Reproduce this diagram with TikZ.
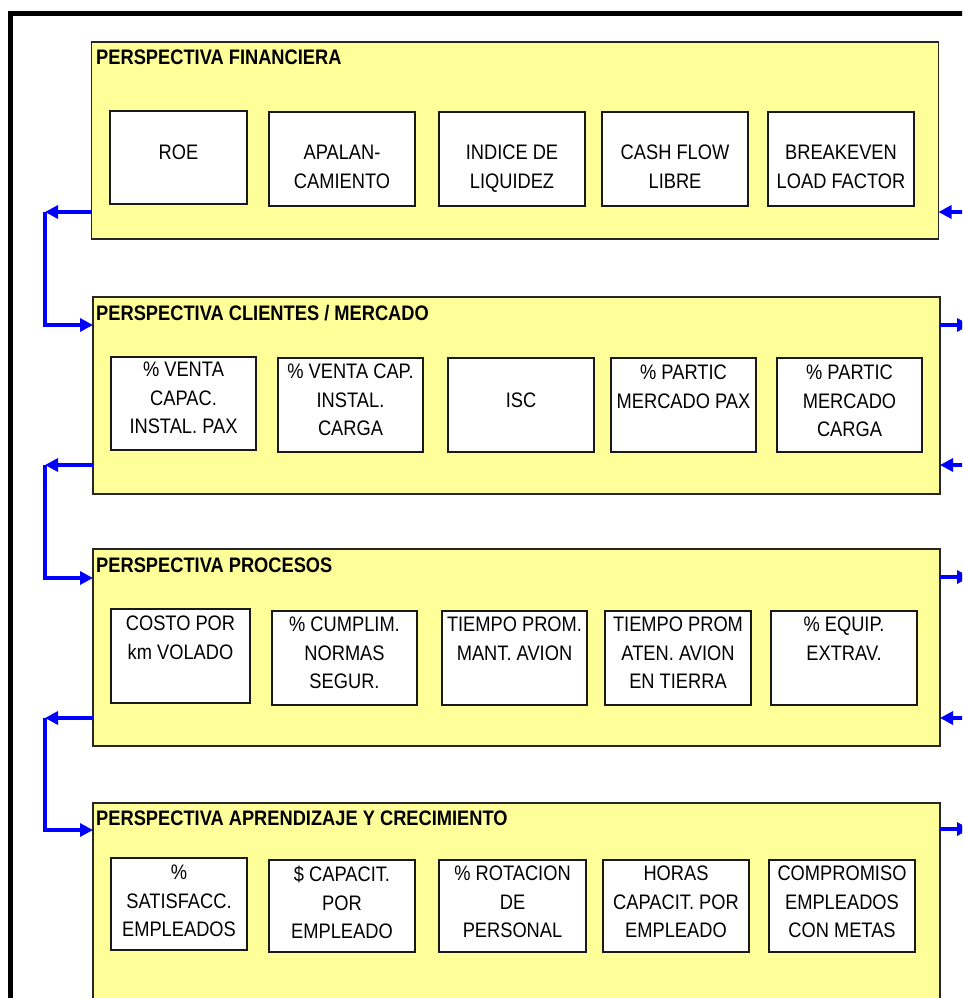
\documentclass[tikz,border=0pt]{standalone}
\usepackage{fontspec}
\setmainfont{Liberation Sans}[FakeStretch=0.87]
\usetikzlibrary{arrows.meta}
\definecolor{panelfill}{HTML}{FFFF99}
\definecolor{flowblue}{HTML}{0000FF}

% a perspective panel: name, left, top, right, bottom
\newcommand\perspective[5]{%
  \node[panel, minimum width={#4-#2}, minimum height={#5-#3}]
    (#1) at ({(#2+#4)/2},{(#3+#5)/2}) {};}
% an indicator box: name, left, top, right, bottom, first baseline, text
\newcommand\indicator[7]{%
  \node[kbox, minimum width={#4-#2}, minimum height={#5-#3}]
    (#1) at ({(#2+#4)/2},{(#3+#5)/2}) {};
  \node[ktext, anchor=north] (#1-t) at ({(#2+#4)/2},{#6-15}) {#7};}

\begin{document}
\begin{tikzpicture}[x=1pt,y=-1pt,
  panel/.style={draw=black!85, line width=1.4pt, fill=panelfill, inner sep=0pt, outer sep=0pt},
  kbox/.style={draw=black!90, line width=1.4pt, fill=white, inner sep=0pt, outer sep=0pt},
  ktext/.style={inner sep=0pt, align=center, font=\fontsize{21}{28.5}\selectfont},
  ptitle/.style={inner sep=0pt, anchor=base west, font=\bfseries\fontsize{21}{25}\selectfont},
  flow/.style={draw=flowblue, line width=4.5pt, -{Triangle[length=13pt,width=13pt]}},
  ]
\path[use as bounding box] (0,0) rectangle (962,998);
\clip (0,0) rectangle (962,998);

% outer frame
\draw[line width=5pt] (10.5,13.5) rectangle (1000,1040);

% panels
\perspective{P1}{91.5}{42}{938.5}{239}
\perspective{P2}{93}{297}{940}{494}
\perspective{P3}{93}{549}{940}{746}
\perspective{P4}{93}{803}{940}{1040}

\node[ptitle] (P1-title) at (96,64)  {PERSPECTIVA FINANCIERA};
\node[ptitle] (P2-title) at (96,320) {PERSPECTIVA CLIENTES / MERCADO};
\node[ptitle] (P3-title) at (96,572) {PERSPECTIVA PROCESOS};
\node[ptitle] (P4-title) at (96,825) {PERSPECTIVA APRENDIZAJE Y CRECIMIENTO};

% financial indicators
\indicator{f1}{110}{111}{247}{204}{160}{ROE}
\indicator{f2}{269}{112}{415}{206}{160}{APALAN-\\CAMIENTO}
\indicator{f3}{439}{112}{585}{206}{160}{INDICE DE\\LIQUIDEZ}
\indicator{f4}{602}{112}{748}{206}{160}{CASH FLOW\\LIBRE}
\indicator{f5}{768}{112}{914}{206}{160}{BREAKEVEN\\LOAD FACTOR}

% customer / market indicators
\indicator{c1}{111}{357}{256}{450}{377}{\% VENTA\\CAPAC.\\INSTAL. PAX}
\indicator{c2}{278}{358}{423}{452}{379}{\% VENTA CAP.\\INSTAL.\\CARGA}
\indicator{c3}{448}{358}{594}{452}{408}{ISC}
\indicator{c4}{611}{358}{756}{452}{380}{\% PARTIC\\MERCADO PAX}
\indicator{c5}{777}{358}{922}{452}{380}{\% PARTIC\\MERCADO\\CARGA}

% process indicators
\indicator{p1}{111}{609}{250}{703}{631}{COSTO POR\\km VOLADO}
\indicator{p2}{272}{611}{417}{705}{632}{\% CUMPLIM.\\NORMAS\\SEGUR.}
\indicator{p3}{442}{611}{587}{705}{632}{TIEMPO PROM.\\MANT. AVION}
\indicator{p4}{605}{611}{751}{705}{632}{TIEMPO PROM\\ATEN. AVION\\EN TIERRA}
\indicator{p5}{771}{611}{917}{705}{632}{\% EQUIP.\\EXTRAV.}

% learning and growth indicators
\indicator{a1}{111}{858}{247}{950}{880}{\%\\SATISFACC.\\EMPLEADOS}
\indicator{a2}{269}{860}{415}{952}{881}{\$ CAPACIT.\\POR\\EMPLEADO}
\indicator{a3}{439}{860}{586}{952}{881}{\% ROTACION\\DE\\PERSONAL}
\indicator{a4}{603}{860}{749}{952}{881}{HORAS\\CAPACIT. POR\\EMPLEADO}
\indicator{a5}{769}{860}{915}{952}{881}{COMPROMISO\\EMPLEADOS\\CON METAS}

% left-hand links, each panel down to the next
\coordinate (L1) at (45,212);  \coordinate (L1e) at (45,325);
\coordinate (L2) at (45,465);  \coordinate (L2e) at (45,578);
\coordinate (L3) at (45,718);  \coordinate (L3e) at (45,830);
\draw[flow] (P1.west |- L1) -- (L1);
\draw[flow] (L1) |- (P2.west |- L1e);
\draw[flow] (P2.west |- L2) -- (L2);
\draw[flow] (L2) |- (P3.west |- L2e);
\draw[flow] (P3.west |- L3) -- (L3);
\draw[flow] (L3) |- (P4.west |- L3e);

% right-hand links, each panel back up to the one above
\coordinate (R1) at (970,325);  \coordinate (R1e) at (970,212);
\coordinate (R2) at (970,577);  \coordinate (R2e) at (970,465);
\coordinate (R3) at (970,829);  \coordinate (R3e) at (970,718);
\draw[flow] (P2.east |- R1) -- (R1);
\draw[flow] (R1) |- (P1.east |- R1e);
\draw[flow] (P3.east |- R2) -- (R2);
\draw[flow] (R2) |- (P2.east |- R2e);
\draw[flow] (P4.east |- R3) -- (R3);
\draw[flow] (R3) |- (P3.east |- R3e);
\end{tikzpicture}
\end{document}
